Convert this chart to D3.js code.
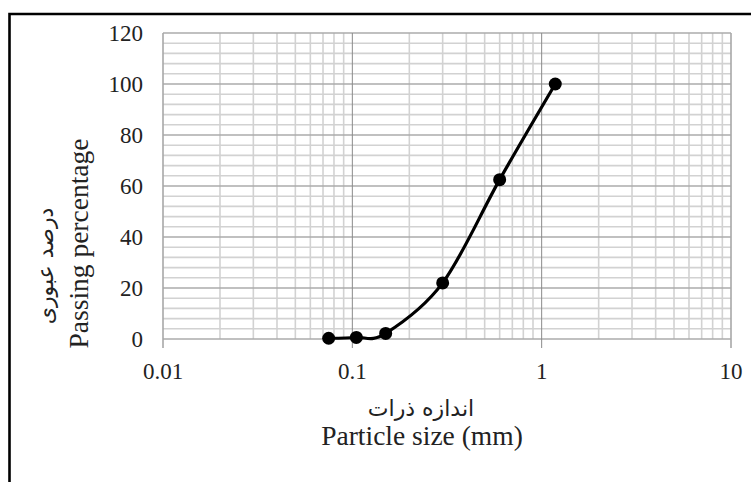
<!DOCTYPE html>
<html>
<head>
<meta charset="utf-8">
<script src="https://cdn.jsdelivr.net/npm/d3@7/dist/d3.min.js"></script>
<style>
html,body{margin:0;padding:0;background:#fff;}
svg{display:block;}
text{font-family:"Liberation Serif","Times New Roman",serif;fill:#222;}
.fa{font-family:"DejaVu Sans","Noto Sans",sans-serif;}
</style>
</head>
<body>
<script>
// Data
const particleSize = [0.075, 0.105, 0.15, 0.3, 0.6, 1.18];
const passingPct   = [0.3, 0.6, 2.2, 22, 62.5, 100];
const xTickValues  = [0.01, 0.1, 1, 10];
const xTickLabels  = ["0.01", "0.1", "1", "10"];
const yTickValues  = [0, 20, 40, 60, 80, 100, 120];
const yTickLabels  = ["0", "20", "40", "60", "80", "100", "120"];
const yTitleEn = "Passing percentage";
const yTitleFa = "درصد عبوری";
const xTitleEn = "Particle size (mm)";
const xTitleFa = "اندازه ذرات";

const W = 751, H = 482;
const m = {left:163, right:731, top:33, bottom:339};

const svg = d3.select("body").append("svg").attr("width", W).attr("height", H);

// outer frame (top + left)
svg.append("path").attr("d", `M9.5,${H} V14 H${W}`).attr("fill","none").attr("stroke","#000").attr("stroke-width",2.6);

const x = d3.scaleLog().domain([0.01, 10]).range([m.left, m.right]);
const y = d3.scaleLinear().domain([0, 120]).range([m.bottom, m.top]);

const g = svg.append("g");

// horizontal gridlines (minor every 4, major every 20)
const hMinor = d3.range(0, 121, 4).filter(v => v % 20 !== 0);
g.selectAll(".hmin").data(hMinor).join("line")
  .attr("x1", m.left).attr("x2", m.right)
  .attr("y1", d => y(d)).attr("y2", d => y(d))
  .attr("stroke", "#d2d2d2").attr("stroke-width", 1.6);

// vertical minor gridlines
const vMinor = [];
[0.01, 0.1, 1].forEach(dec => { for (let k = 2; k <= 9; k++) vMinor.push(dec * k); });
g.selectAll(".vmin").data(vMinor).join("line")
  .attr("x1", d => x(d)).attr("x2", d => x(d))
  .attr("y1", m.top).attr("y2", m.bottom)
  .attr("stroke", "#d2d2d2").attr("stroke-width", 1.6);

// horizontal major gridlines
g.selectAll(".hmaj").data(yTickValues).join("line")
  .attr("x1", m.left).attr("x2", m.right)
  .attr("y1", d => y(d)).attr("y2", d => y(d))
  .attr("stroke", "#ababab").attr("stroke-width", 1.6);

// vertical major gridlines + ticks below axis
g.selectAll(".vmaj").data(xTickValues).join("line")
  .attr("x1", d => x(d)).attr("x2", d => x(d))
  .attr("y1", m.top).attr("y2", m.bottom + 9)
  .attr("stroke", (d,i) => (i === 0 || i === 3) ? "#a8a8a8" : "#8a8a8a")
  .attr("stroke-width", (d,i) => (i === 0 || i === 3) ? 1.6 : 1);

// y tick labels
g.selectAll(".ylab").data(yTickValues).join("text")
  .attr("x", m.left - 20).attr("y", d => y(d)).attr("dy", "0.35em")
  .attr("text-anchor", "end").attr("font-size", 23)
  .text((d,i) => yTickLabels[i]);

// x tick labels
g.selectAll(".xlab").data(xTickValues).join("text")
  .attr("x", d => x(d)).attr("y", 379)
  .attr("text-anchor", "middle").attr("font-size", 23)
  .text((d,i) => xTickLabels[i]);

// data line
const pts = particleSize.map((d,i) => [x(d), y(passingPct[i])]);
svg.append("path")
  .attr("d", d3.line().curve(d3.curveCardinal.tension(0))(pts))
  .attr("fill", "none").attr("stroke", "#000").attr("stroke-width", 3.2);

svg.selectAll(".pt").data(pts).join("circle")
  .attr("cx", d => d[0]).attr("cy", d => d[1]).attr("r", 6.5)
  .attr("fill", "#000");

// axis titles
svg.append("text").attr("transform", "translate(88,243.5) rotate(-90)")
  .attr("text-anchor", "middle").attr("font-size", 27.5).text(yTitleEn);
svg.append("text").attr("class","fa").attr("transform", "translate(53,266) rotate(-90)")
  .attr("text-anchor", "middle").attr("font-size", 22).attr("direction","rtl").text(yTitleFa);

svg.append("text").attr("x", 422).attr("y", 445)
  .attr("text-anchor", "middle").attr("font-size", 27.5).text(xTitleEn);
svg.append("text").attr("class","fa").attr("x", 421).attr("y", 416)
  .attr("text-anchor", "middle").attr("font-size", 22).attr("direction","rtl").text(xTitleFa);
</script>
</body>
</html>
